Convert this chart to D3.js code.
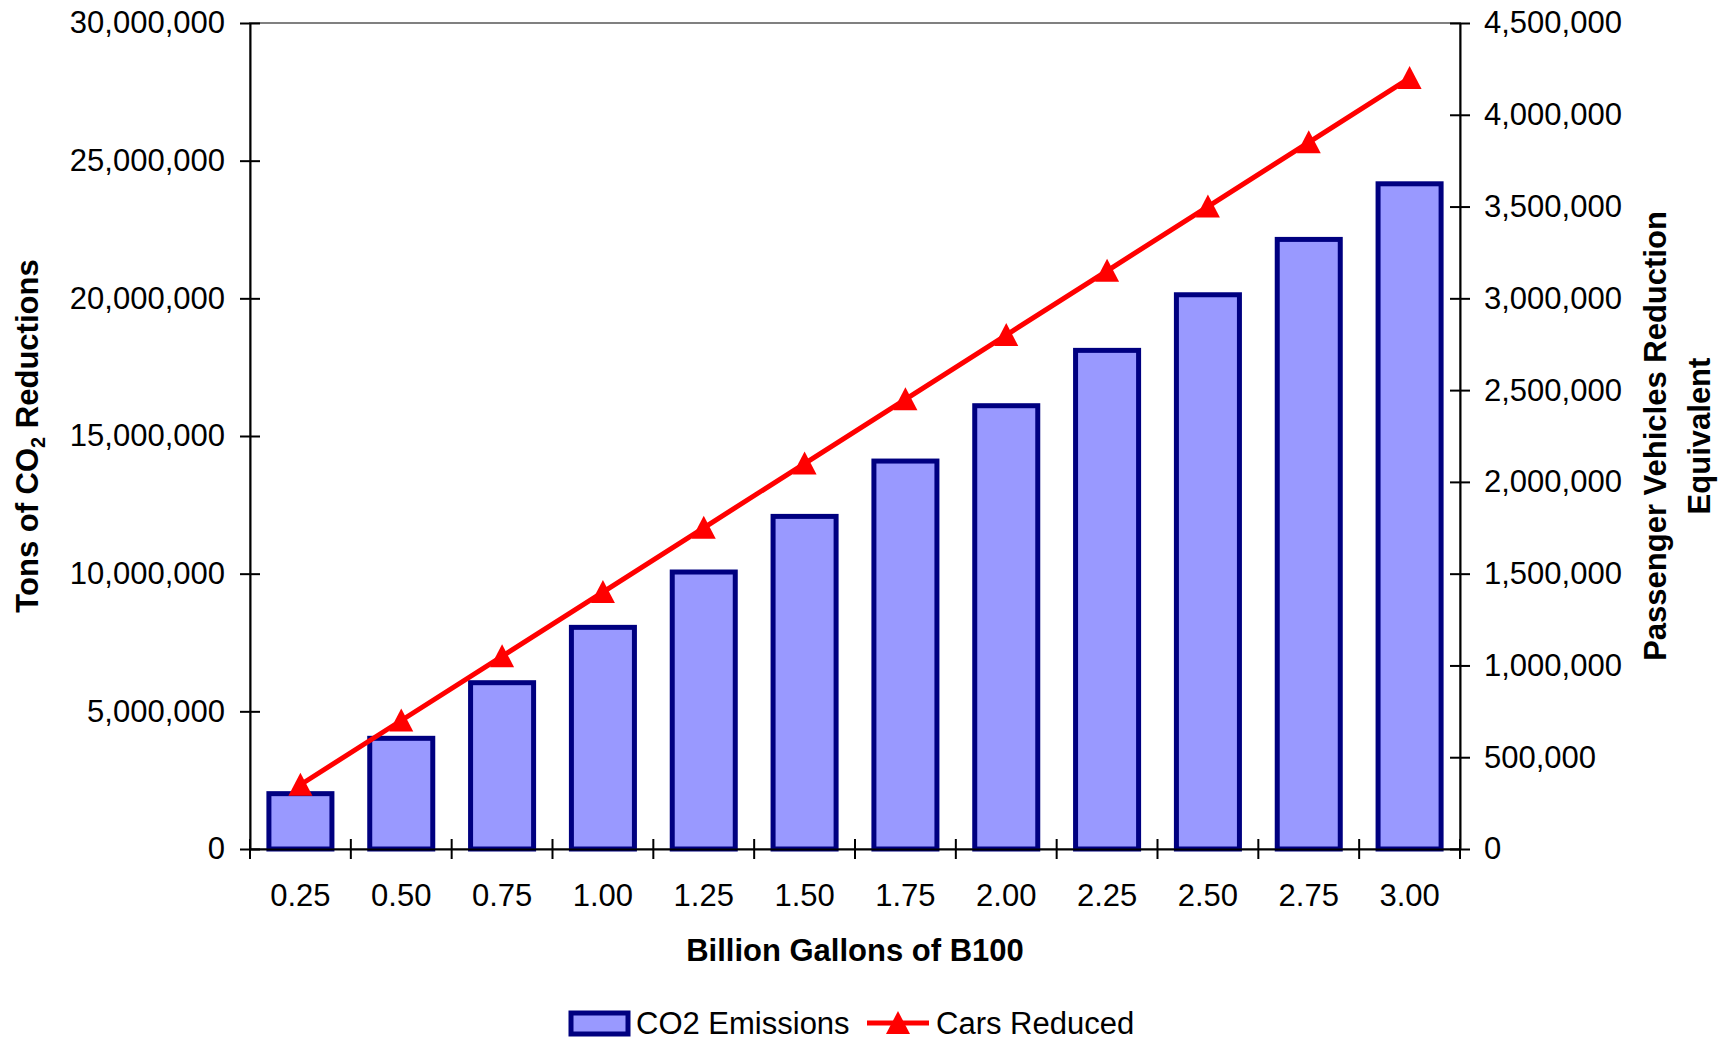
<!DOCTYPE html>
<html><head><meta charset="utf-8">
<script src="https://cdn.jsdelivr.net/npm/d3@7"></script>
<style>body{margin:0;background:#fff}svg{display:block}text{font-family:"Liberation Sans",Arial,sans-serif}</style>
</head><body>
<svg id="c" width="1724" height="1040"></svg>
<script>
const categories = ["0.25","0.50","0.75","1.00","1.25","1.50","1.75","2.00","2.25","2.50","2.75","3.00"];
const co2Emissions = [2010000,4020000,6040000,8050000,10060000,12080000,14090000,16100000,18110000,20130000,22140000,24160000];
const carsReduced = [350000,700000,1050000,1400000,1750000,2100000,2450000,2800000,3150000,3500000,3850000,4200000];
const leftTicks = [0,5000000,10000000,15000000,20000000,25000000,30000000];
const rightTicks = [0,500000,1000000,1500000,2000000,2500000,3000000,3500000,4000000,4500000];

const FONT = "Liberation Sans, Arial, sans-serif";
const svg = d3.select("#c");
const L = 250, R = 1460, T = 23, B = 849;
const x = d3.scaleBand().domain(categories).range([L, R]).paddingInner(0.375).paddingOuter(0.1875);
const xb = d3.scaleBand().domain(categories).range([L, R]);
const yL = d3.scaleLinear().domain([0, 30000000]).range([B, T]);
const yR = d3.scaleLinear().domain([0, 4500000]).range([B, T]);
const fmt = d3.format(",");

// plot border
svg.append("rect").attr("x", L).attr("y", T).attr("width", R - L).attr("height", B - T)
  .attr("fill", "none").attr("stroke", "#808080").attr("stroke-width", 2);

// bars
svg.append("g").selectAll("rect").data(categories).join("rect")
  .attr("x", d => x(d)).attr("width", x.bandwidth())
  .attr("y", (d, i) => yL(co2Emissions[i])).attr("height", (d, i) => B - yL(co2Emissions[i]))
  .attr("fill", "#9999FF").attr("stroke", "#000080").attr("stroke-width", 5);

// axes
const axL = svg.append("g").attr("transform", `translate(${L},0)`)
  .call(d3.axisLeft(yL).tickValues(leftTicks).tickFormat(fmt).tickSizeOuter(0).tickSizeInner(10).tickPadding(15));
const axR = svg.append("g").attr("transform", `translate(${R},0)`)
  .call(d3.axisRight(yR).tickValues(rightTicks).tickFormat(fmt).tickSizeOuter(0).tickSizeInner(10).tickPadding(14));
const axB = svg.append("g").attr("transform", `translate(0,${B})`)
  .call(d3.axisBottom(xb).tickSize(0).tickSizeOuter(0).tickPadding(46));
[axL, axR, axB].forEach(a => {
  a.attr("font-family", FONT);
  a.select(".domain").attr("stroke", "#000").attr("stroke-width", 2);
  a.selectAll("text").attr("font-size", 31).attr("fill", "#000").attr("font-family", FONT);
  a.selectAll(".tick line").attr("stroke", "#000").attr("stroke-width", 2);
});
// cross ticks
axL.selectAll(".tick line").attr("x1", -10).attr("x2", 10);
axR.selectAll(".tick line").attr("x1", -10).attr("x2", 10);
axB.selectAll(".tick text").attr("dy", "0.35em");
// category boundary ticks on x axis
const bounds = categories.map(c => xb(c)).concat([R]);
svg.append("g").selectAll("line").data(bounds).join("line")
  .attr("x1", d => d).attr("x2", d => d).attr("y1", B - 10).attr("y2", B + 10)
  .attr("stroke", "#000").attr("stroke-width", 2);

// line
const cx = (d, i) => xb(categories[i]) + xb.bandwidth() / 2;
svg.append("path").datum(carsReduced)
  .attr("d", d3.line().x(cx).y(d => yR(d)))
  .attr("fill", "none").attr("stroke", "#FF0000").attr("stroke-width", 5);
const tri = "M0,-12L12,11L-12,11Z";
svg.append("g").selectAll("path").data(carsReduced).join("path")
  .attr("transform", (d, i) => `translate(${cx(d, i)},${yR(d)})`)
  .attr("d", tri).attr("fill", "#FF0000");

// titles
svg.append("text").attr("transform", `translate(38,${(T + B) / 2}) rotate(-90)`)
  .attr("text-anchor", "middle").attr("font-size", 31).attr("font-weight", "bold").attr("font-family", FONT)
  .call(t => {
    t.append("tspan").text("Tons of CO");
    t.append("tspan").attr("font-size", 20).attr("dy", 7).text("2");
    t.append("tspan").attr("dy", -7).text(" Reductions");
  });
const rt = svg.append("text").attr("transform", `translate(1655,${(T + B) / 2}) rotate(-90)`)
  .attr("text-anchor", "middle").attr("font-size", 31).attr("font-weight", "bold").attr("font-family", FONT);
rt.append("tspan").attr("x", 0).attr("dy", "0.35em").text("Passenger Vehicles Reduction");
rt.append("tspan").attr("x", 0).attr("dy", 44).text("Equivalent");

svg.append("text").attr("x", (L + R) / 2).attr("y", 950).attr("dy", "0.35em")
  .attr("text-anchor", "middle").attr("font-size", 31).attr("font-weight", "bold").attr("font-family", FONT)
  .text("Billion Gallons of B100");

// legend
const LY = 1023;
const lg = svg.append("g").attr("font-family", FONT);
lg.append("rect").attr("x", 571).attr("y", LY - 10).attr("width", 57).attr("height", 21)
  .attr("fill", "#9999FF").attr("stroke", "#000080").attr("stroke-width", 5);
lg.append("text").attr("x", 636).attr("y", LY).attr("dy", "0.35em").attr("font-size", 31).text("CO2 Emissions");
lg.append("line").attr("x1", 867).attr("x2", 929).attr("y1", LY).attr("y2", LY)
  .attr("stroke", "#FF0000").attr("stroke-width", 5);
lg.append("path").attr("transform", `translate(898,${LY})`).attr("d", tri).attr("fill", "#FF0000");
lg.append("text").attr("x", 936).attr("y", LY).attr("dy", "0.35em").attr("font-size", 31).text("Cars Reduced");
</script>
</body></html>
